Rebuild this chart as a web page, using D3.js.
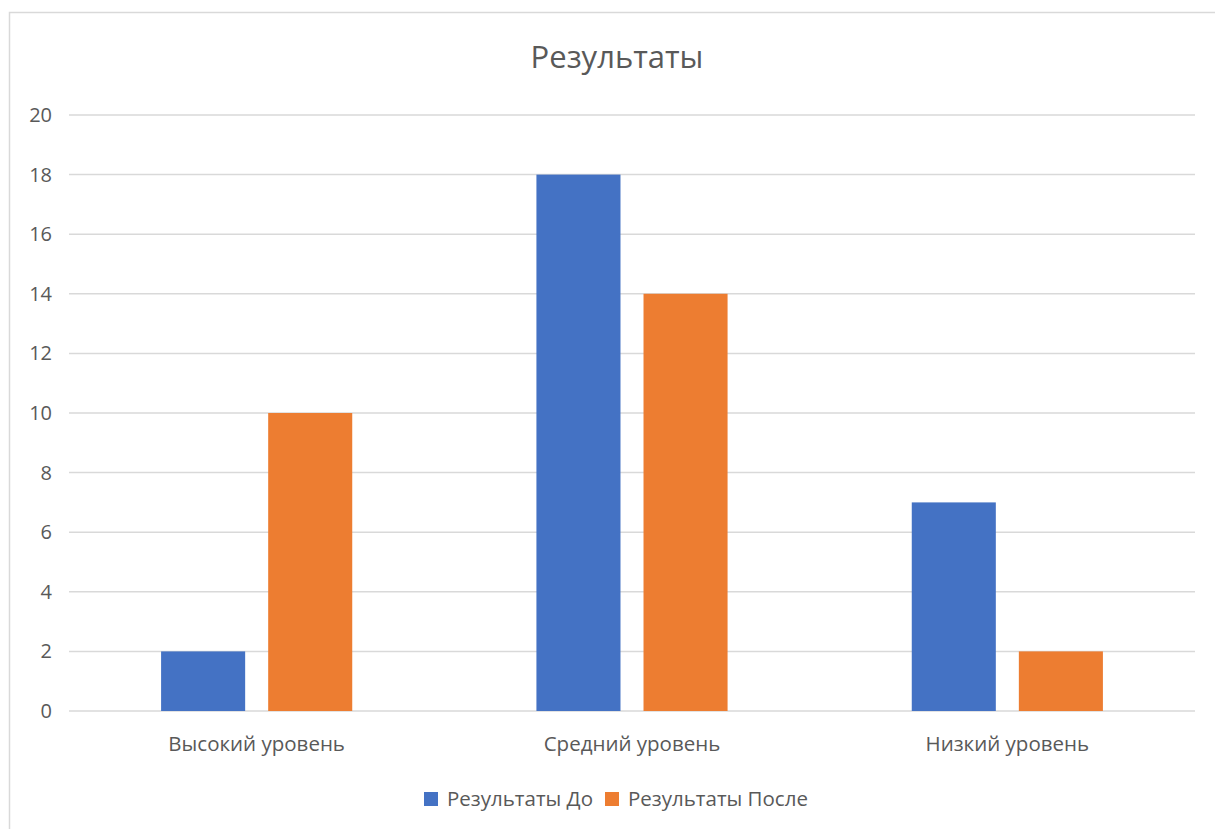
<!DOCTYPE html>
<html>
<head>
<meta charset="utf-8">
<script src="https://cdn.jsdelivr.net/npm/d3@7"></script>
<style>
  body { margin: 0; background: #fff; }
  svg { display: block; }
  text { font-family: "Open Sans", "Noto Sans", sans-serif; fill: #595959; }
</style>
</head>
<body>
<div id="chart-area"></div>
<script>
// chart data
var categories = ["Высокий уровень", "Средний уровень", "Низкий уровень"];
var seriesNames = ["Результаты До", "Результаты После"];
var before = [2, 18, 7];
var after = [10, 14, 2];
var yTicks = [0, 2, 4, 6, 8, 10, 12, 14, 16, 18, 20];
var colors = ["#4472c4", "#ed7d31"];

var width = 1215, height = 829;
var margin = {top: 115, right: 20, bottom: 118, left: 69};

var svg = d3.select("#chart-area").append("svg")
    .attr("width", width)
    .attr("height", height);

// chart border
svg.append("rect")
    .attr("x", 9.5).attr("y", 12.5)
    .attr("width", width + 10).attr("height", height + 10)
    .attr("fill", "none")
    .attr("stroke", "#d9d9d9")
    .attr("stroke-width", 1.5);

var x = d3.scaleBand()
    .domain(categories)
    .range([margin.left, width - margin.right]);

var x1 = d3.scaleBand()
    .domain(seriesNames)
    .range([0, x.bandwidth()])
    .paddingInner(0.215)
    .paddingOuter(0.86);

var y = d3.scaleLinear()
    .domain([0, 20])
    .range([height - margin.bottom, margin.top]);

// gridlines
svg.append("g")
    .selectAll("line")
    .data(yTicks)
    .enter()
    .append("line")
        .attr("x1", margin.left)
        .attr("x2", width - margin.right)
        .attr("y1", function(d){ return y(d); })
        .attr("y2", function(d){ return y(d); })
        .attr("stroke", "#d9d9d9")
        .attr("stroke-width", 1.5);

// y axis labels
svg.append("g")
    .selectAll("text")
    .data(yTicks)
    .enter()
    .append("text")
        .attr("x", 52)
        .attr("y", function(d){ return y(d); })
        .attr("dy", "0.35em")
        .attr("text-anchor", "end")
        .attr("font-size", "20px")
        .text(function(d){ return d; });

// bars
var rows = categories.map(function(c, i){
    return [{cat: c, s: seriesNames[0], v: before[i]}, {cat: c, s: seriesNames[1], v: after[i]}];
});

var groups = svg.append("g")
    .selectAll("g")
    .data(rows)
    .enter()
    .append("g")
        .attr("transform", function(d){ return "translate(" + x(d[0].cat) + ",0)"; });

groups.selectAll("rect")
    .data(function(d){ return d; })
    .enter()
    .append("rect")
        .attr("x", function(d){ return x1(d.s); })
        .attr("width", x1.bandwidth())
        .attr("y", function(d){ return y(d.v); })
        .attr("height", function(d){ return y(0) - y(d.v); })
        .attr("fill", function(d, i){ return colors[i]; });

// category labels
svg.append("g")
    .selectAll("text")
    .data(categories)
    .enter()
    .append("text")
        .attr("x", function(d){ return x(d) + x.bandwidth() / 2; })
        .attr("y", 751)
        .attr("text-anchor", "middle")
        .attr("font-size", "20.5px")
        .text(function(d){ return d; });

// title
svg.append("text")
    .attr("x", 617)
    .attr("y", 68)
    .attr("text-anchor", "middle")
    .attr("font-size", "31px")
    .text("Результаты");

// legend
var legendX = [424, 605];
var legend = svg.append("g")
    .selectAll("g")
    .data(seriesNames)
    .enter()
    .append("g")
        .attr("transform", function(d, i){ return "translate(" + legendX[i] + ",792)"; });

legend.append("rect")
    .attr("width", 14)
    .attr("height", 14)
    .attr("fill", function(d, i){ return colors[i]; });

legend.append("text")
    .attr("x", 23)
    .attr("y", 7)
    .attr("dy", "0.35em")
    .attr("font-size", "20.5px")
    .text(function(d){ return d; });
</script>
</body>
</html>
